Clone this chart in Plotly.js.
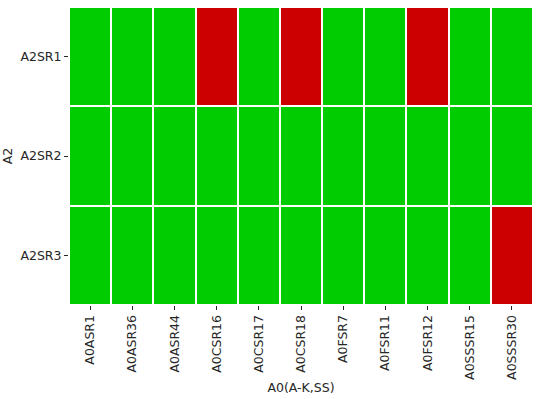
<!DOCTYPE html>
<html><head><meta charset="utf-8">
<script src="https://cdn.plot.ly/plotly-3.0.1.min.js"></script>
<style>html,body{margin:0;padding:0;background:#fff}</style>
</head><body><div id="chart" style="width:537px;height:399px"></div>
<script>
const xCategories = ["A0ASR1","A0ASR36","A0ASR44","A0CSR16","A0CSR17","A0CSR18","A0FSR7","A0FSR11","A0FSR12","A0SSSR15","A0SSSR30"];
const yCategories = ["A2SR1","A2SR2","A2SR3"];
// 1 = fail (red), 0 = pass (green)
const rowA2SR1 = [0,0,0,1,0,1,0,0,1,0,0];
const rowA2SR2 = [0,0,0,0,0,0,0,0,0,0,0];
const rowA2SR3 = [0,0,0,0,0,0,0,0,0,0,1];
const zValues = [rowA2SR1, rowA2SR2, rowA2SR3];

const trace = {
  type: "heatmap",
  x: xCategories,
  y: yCategories,
  z: zValues,
  zmin: 0, zmax: 1,
  colorscale: [[0,"#00cc00"],[0.5,"#00cc00"],[0.5,"#cc0000"],[1,"#cc0000"]],
  showscale: false,
  xgap: 2, ygap: 2,
  hoverinfo: "x+y+z"
};
const font = {family: "DejaVu Sans", size: 12.5, color: "#262626"};
const layout = {
  width: 537, height: 399,
  margin: {l: 69, r: 4, t: 7, b: 94},
  paper_bgcolor: "#fff", plot_bgcolor: "#fff",
  font: font,
  xaxis: {
    type: "category", categoryorder: "array", categoryarray: xCategories,
    tickangle: -90, ticks: "outside", ticklen: 4, tickcolor: "#262626",
    showgrid: false, zeroline: false, showline: false,
    title: {text: "A0(A-K,SS)", font: font, standoff: 4},
    tickfont: font
  },
  yaxis: {
    type: "category", categoryorder: "array", categoryarray: yCategories,
    autorange: "reversed", ticks: "outside", ticklen: 4, tickcolor: "#262626",
    showgrid: false, zeroline: false, showline: false,
    title: {text: "A2", font: font, standoff: 6},
    tickfont: font
  }
};
Plotly.newPlot("chart", [trace], layout, {displayModeBar: false, staticPlot: true});
</script></body></html>
